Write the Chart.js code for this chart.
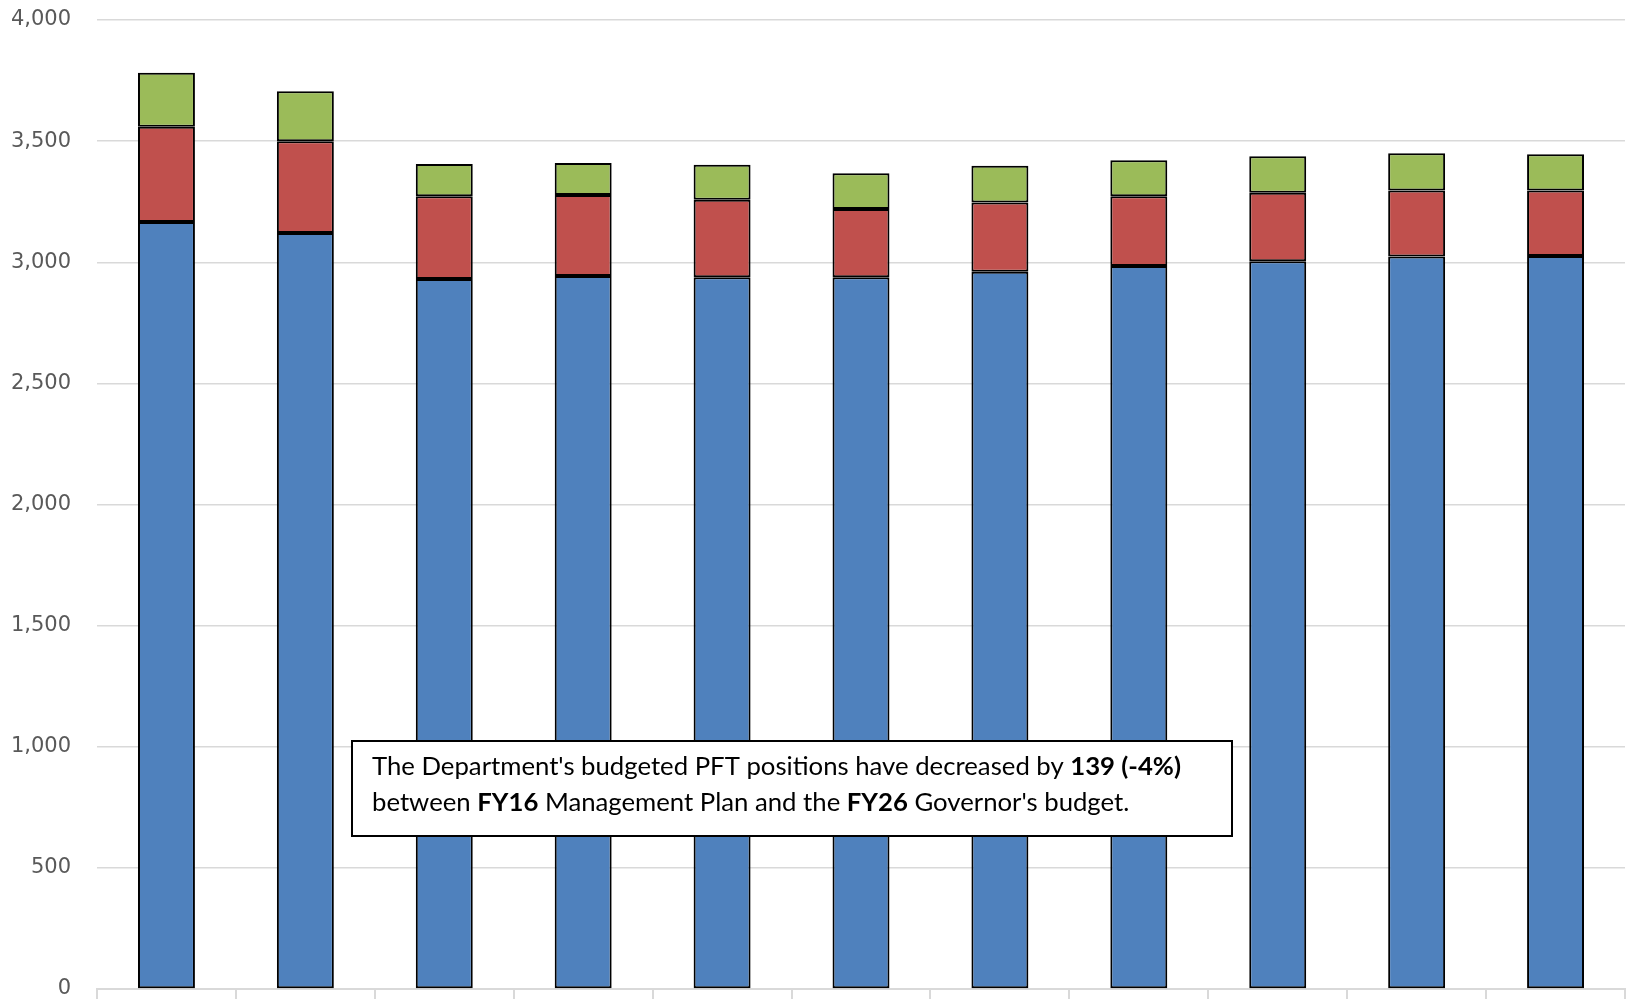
<!DOCTYPE html>
<html>
<head>
<meta charset="utf-8">
<script src="https://cdn.jsdelivr.net/npm/chart.js@4"></script>
<style>
  html, body { margin: 0; padding: 0; background: #fff; }
  canvas { display: block; }
</style>
</head>
<body>
<canvas id="pftChart" width="1633" height="999"></canvas>
<script>
// Fiscal years, FY16 Management Plan through FY26 Governor's budget
const categories = ["FY16", "FY17", "FY18", "FY19", "FY20", "FY21", "FY22", "FY23", "FY24", "FY25", "FY26"]

// Positions by type (stacked)
const pftValues = [3166, 3121, 2931, 2943, 2938, 2938, 2961, 2985, 3004, 3024, 3026]
const pptValues = [393, 378, 341, 335, 320, 282, 286, 287, 283, 272, 270]
const npValues = [223, 207, 134, 132, 144, 147, 151, 149, 151, 154, 150]

const yTicks = [0, 500, 1000, 1500, 2000, 2500, 3000, 3500, 4000]

const noteLines = [
  [["The Department's budgeted PFT positions have decreased by ", false], ["139 (-4%)", true]],
  [["between ", false], ["FY16", true], [" Management Plan and the ", false], ["FY26", true], [" Governor's budget.", false]],
]

// text box drawn on top of the bars
const noteBox = {
  id: "noteBox",
  afterDatasetsDraw(chart) {
    const ctx = chart.ctx
    const box = { x: 352, y: 741, w: 880, h: 95 }
    const family = "Lato, 'Open Sans', sans-serif"
    const fontSize = 25
    const targetWidth = 809

    ctx.save()
    ctx.fillStyle = "#ffffff"
    ctx.fillRect(box.x, box.y, box.w, box.h)
    ctx.strokeStyle = "#000000"
    ctx.lineWidth = 2
    ctx.strokeRect(box.x, box.y, box.w, box.h)

    const measure = (line) => {
      let w = 0
      line.forEach(([txt, bold]) => {
        ctx.font = (bold ? "bold " : "") + fontSize + "px " + family
        w += ctx.measureText(txt).width
      })
      return w
    }
    // squeeze horizontally so the first line spans the original width
    const sx = targetWidth / measure(noteLines[0])

    ctx.fillStyle = "#000000"
    ctx.textBaseline = "alphabetic"
    const baselines = [775, 811]
    noteLines.forEach((line, i) => {
      ctx.save()
      ctx.translate(372, baselines[i])
      ctx.scale(sx, 1)
      let x = 0
      line.forEach(([txt, bold]) => {
        ctx.font = (bold ? "bold " : "") + fontSize + "px " + family
        ctx.fillText(txt, x, 0)
        x += ctx.measureText(txt).width
      })
      ctx.restore()
    })
    ctx.restore()
  },
}

const ctxEl = document.getElementById("pftChart")
const pftChart = new Chart(ctxEl, {
  type: "bar",
  data: {
    labels: categories,
    datasets: [
      {
        label: "PFT",
        data: pftValues,
        backgroundColor: "#4F81BD",
        borderColor: "#000000",
        borderWidth: 2,
        borderSkipped: false,
      },
      {
        label: "PPT",
        data: pptValues,
        backgroundColor: "#C0504D",
        borderColor: "#000000",
        borderWidth: 2,
        borderSkipped: false,
      },
      {
        label: "NP",
        data: npValues,
        backgroundColor: "#9BBB59",
        borderColor: "#000000",
        borderWidth: 2,
        borderSkipped: false,
      },
    ],
  },
  options: {
    responsive: false,
    devicePixelRatio: 1,
    animation: false,
    categoryPercentage: 1,
    barPercentage: 0.41,
    layout: {
      padding: { top: 20, right: 8, bottom: 0, left: 0 },
    },
    plugins: {
      legend: { display: false },
      tooltip: { enabled: false },
    },
    scales: {
      x: {
        stacked: true,
        grid: {
          offset: true,
          drawOnChartArea: false,
          drawTicks: true,
          tickLength: 10,
          color: "#d9d9d9",
          lineWidth: 2,
        },
        border: { display: true, color: "#d9d9d9", width: 2 },
        ticks: { display: false },
      },
      y: {
        stacked: true,
        min: 0,
        max: 4000,
        afterBuildTicks: (scale) => {
          scale.ticks = yTicks.map((v) => ({ value: v }))
        },
        afterFit: (scale) => {
          scale.width = 97
          scale.paddingTop = 0
          scale.paddingBottom = 0
        },
        grid: {
          drawTicks: false,
          color: "#d9d9d9",
          lineWidth: 1.5,
        },
        border: { display: false },
        ticks: {
          padding: 26,
          color: "#595959",
          font: { family: "'DejaVu Sans'", size: 21 },
          callback: (value) => value.toLocaleString("en-US"),
        },
      },
    },
  },
  plugins: [noteBox],
})
</script>
</body>
</html>
